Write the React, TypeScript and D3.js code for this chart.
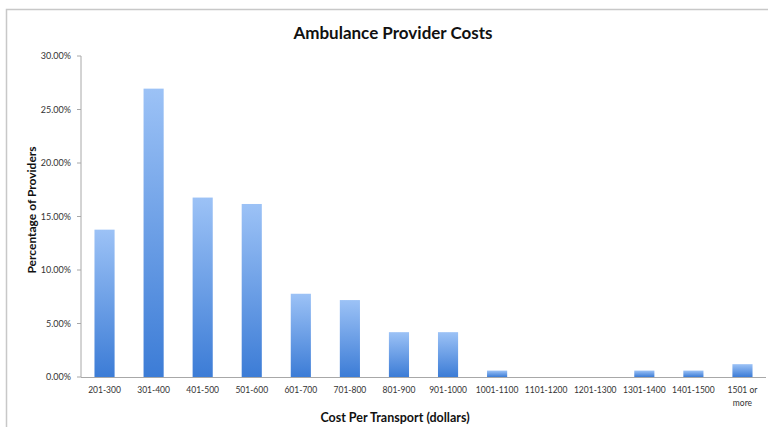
import React, { useEffect, useRef } from "react";
import * as d3 from "d3";

const categories = [
  "201-300",
  "301-400",
  "401-500",
  "501-600",
  "601-700",
  "701-800",
  "801-900",
  "901-1000",
  "1001-1100",
  "1101-1200",
  "1201-1300",
  "1301-1400",
  "1401-1500",
  "1501 or more",
];
const percentages = [13.77, 26.95, 16.77, 16.17, 7.78, 7.19, 4.19, 4.19, 0.6, 0, 0, 0.6, 0.6, 1.2];
const yTicks = [0, 5, 10, 15, 20, 25, 30];

const W = 768;
const H = 427;
const FONT = "Lato, 'Open Sans', sans-serif";

export default function App() {
  const ref = useRef<SVGSVGElement>(null);

  useEffect(() => {
    const svg = d3.select(ref.current);
    svg.selectAll("*").remove();

    const left = 81;
    const top = 56;
    const bottom = 377;

    const x = d3
      .scaleBand()
      .domain(categories)
      .range([80, 767])
      .paddingInner(0.59)
      .paddingOuter(0.295);
    const y = d3.scaleLinear().domain([0, 30]).range([bottom, top]);

    const grad = svg
      .append("defs")
      .append("linearGradient")
      .attr("id", "barGrad")
      .attr("x1", 0)
      .attr("y1", 0)
      .attr("x2", 0)
      .attr("y2", 1);
    grad.append("stop").attr("offset", "0%").attr("stop-color", "#9cc2f6");
    grad.append("stop").attr("offset", "100%").attr("stop-color", "#3c7cd6");

    // frame
    svg
      .append("path")
      .attr("d", `M6.5,${H} V9.5 H${W}`)
      .attr("fill", "none")
      .attr("stroke", "#c8c8c8")
      .attr("stroke-width", 1.5);

    // title
    svg
      .append("text")
      .attr("x", 393)
      .attr("y", 39)
      .attr("text-anchor", "middle")
      .attr("font-family", FONT)
      .attr("font-weight", 700)
      .attr("font-size", 17)
      .attr("fill", "#111")
      .text("Ambulance Provider Costs");

    // y axis
    const yAxis = svg.append("g").attr("transform", `translate(${left},0)`);
    yAxis
      .append("line")
      .attr("y1", top)
      .attr("y2", bottom)
      .attr("stroke", "#a8a8a8");
    const yt = yAxis
      .selectAll(".tick")
      .data(yTicks)
      .enter()
      .append("g")
      .attr("transform", (d) => `translate(0,${y(d)})`);
    yt.append("line").attr("x1", -4).attr("x2", 0).attr("stroke", "#a8a8a8");
    yt.append("text")
      .attr("x", -10)
      .attr("dy", "0.35em")
      .attr("text-anchor", "end")
      .attr("font-family", FONT)
      .attr("font-size", 9)
      .attr("fill", "#333")
      .text((d) => d.toFixed(2) + "%");

    // bars
    svg
      .append("g")
      .selectAll("rect")
      .data(categories.map((c, i) => ({ c, v: percentages[i] })).filter((d) => d.v > 0))
      .enter()
      .append("rect")
      .attr("x", (d) => x(d.c)!)
      .attr("y", (d) => y(d.v))
      .attr("width", x.bandwidth())
      .attr("height", (d) => bottom - y(d.v))
      .attr("fill", "url(#barGrad)");

    // x axis
    svg
      .append("line")
      .attr("x1", left)
      .attr("x2", 766)
      .attr("y1", bottom + 0.5)
      .attr("y2", bottom + 0.5)
      .attr("stroke", "#a8a8a8");

    const xl = svg
      .append("g")
      .selectAll("text")
      .data(categories)
      .enter()
      .append("text")
      .attr("y", 393)
      .attr("text-anchor", "middle")
      .attr("font-family", FONT)
      .attr("font-size", 8.5)
      .attr("fill", "#333");
    xl.each(function (d) {
      const t = d3.select(this);
      const parts = d === "1501 or more" ? ["1501 or", "more"] : [d];
      parts.forEach((p, i) => {
        t.append("tspan")
          .attr("x", x(d)! + x.bandwidth() / 2)
          .attr("dy", i === 0 ? 0 : 13)
          .text(p);
      });
    });

    // axis titles
    svg
      .append("text")
      .attr("x", 395)
      .attr("y", 422)
      .attr("text-anchor", "middle")
      .attr("font-family", FONT)
      .attr("font-weight", 700)
      .attr("font-size", 12.5)
      .attr("fill", "#111")
      .text("Cost Per Transport (dollars)");

    svg
      .append("text")
      .attr("transform", `translate(36,210) rotate(-90)`)
      .attr("text-anchor", "middle")
      .attr("font-family", FONT)
      .attr("font-weight", 700)
      .attr("font-size", 12)
      .attr("fill", "#111")
      .text("Percentage of Providers");
  }, []);

  return (
    <svg
      ref={ref}
      width={W}
      height={H}
      style={{ position: "absolute", left: 0, top: 0, background: "#fff" }}
    />
  );
}
